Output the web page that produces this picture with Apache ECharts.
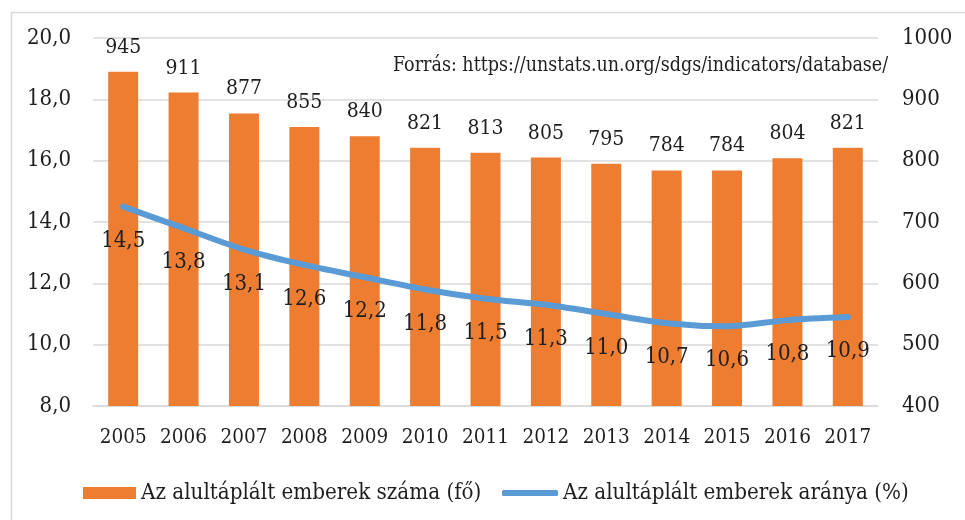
<!DOCTYPE html>
<html>
<head>
<meta charset="utf-8">
<script src="https://cdn.jsdelivr.net/npm/echarts@6/dist/echarts.min.js"></script>
<style>html,body{margin:0;padding:0;background:#fff}#c{width:965px;height:520px}</style>
</head>
<body>
<div id="c"></div>
<script>
var years = ['2005','2006','2007','2008','2009','2010','2011','2012','2013','2014','2015','2016','2017'];
var counts = [945,911,877,855,840,821,813,805,795,784,784,804,821];
var rates = [14.5,13.8,13.1,12.6,12.2,11.8,11.5,11.3,11.0,10.7,10.6,10.8,10.9];
var barName = 'Az alultáplált emberek száma (fő)';
var lineName = 'Az alultáplált emberek aránya (%)';
var sourceText = 'Forrás: https://unstats.un.org/sdgs/indicators/database/';

var FONT = "'DejaVu Serif Condensed', 'DejaVu Serif', serif";
var TXT = '#1e1e1e';
var chart = echarts.init(document.getElementById('c'), null, {renderer: 'canvas'});
function comma(v){ return Number(v).toFixed(1).replace('.', ','); }
chart.setOption({
  animation: false,
  textStyle: {fontFamily: FONT, color: TXT},
  grid: {left: 93, right: 87, top: 38, bottom: 114, containLabel: false},
  graphic: [
    {type: 'rect', left: 9, top: 10, shape: {width: 1000, height: 600}, style: {fill: 'none', stroke: '#d9d9d9', lineWidth: 1.5}, silent: true, z: -10},
    {type: 'text', left: 393, top: 56, style: {text: sourceText, font: "19.5px " + FONT, fill: TXT}}
  ],
  legend: [
    {left: 78, top: 477, itemWidth: 53, itemHeight: 12,
     textStyle: {fontFamily: FONT, fontSize: 22.2, color: TXT},
     data: [{name: barName, icon: 'rect'}]},
    {left: 497, top: 477, itemWidth: 56, itemHeight: 6,
     textStyle: {fontFamily: FONT, fontSize: 22.2, color: TXT},
     data: [{name: lineName, icon: 'roundRect'}]}
  ],
  xAxis: {
    type: 'category', data: years,
    axisLine: {show: true, lineStyle: {color: '#d9d9d9', width: 1.5}},
    axisTick: {show: false},
    axisLabel: {fontFamily: FONT, fontSize: 20.5, color: TXT, margin: 21, interval: 0, hideOverlap: false}
  },
  yAxis: [
    {type: 'value', min: 8, max: 20, interval: 2, position: 'left',
     axisLine: {show: false}, axisTick: {show: false},
     splitLine: {lineStyle: {color: '#d9d9d9', width: 1.5}},
     axisLabel: {fontFamily: FONT, fontSize: 22, color: TXT, margin: 22, formatter: comma}},
    {type: 'value', min: 400, max: 1000, interval: 100, position: 'right',
     axisLine: {show: false}, axisTick: {show: false}, splitLine: {show: false},
     axisLabel: {fontFamily: FONT, fontSize: 22, color: TXT, margin: 24, formatter: function(v){return String(v);}}}
  ],
  series: [
    {name: barName, type: 'bar', yAxisIndex: 1, data: counts, barWidth: 30,
     itemStyle: {color: '#ED7D31'},
     label: {show: true, position: 'top', distance: 14, fontFamily: FONT, fontSize: 21, color: TXT}},
    {name: lineName, type: 'line', yAxisIndex: 0, data: rates, smooth: 0.3,
     symbol: 'circle', symbolSize: 1, showSymbol: true,
     lineStyle: {color: '#5B9BD5', width: 6, cap: 'round'},
     itemStyle: {color: '#5B9BD5'},
     label: {show: true, position: 'bottom', distance: 23, fontFamily: FONT, fontSize: 22, color: TXT, formatter: function(p){return comma(p.value);}},
     z: 5}
  ]
});
</script>
</body>
</html>
